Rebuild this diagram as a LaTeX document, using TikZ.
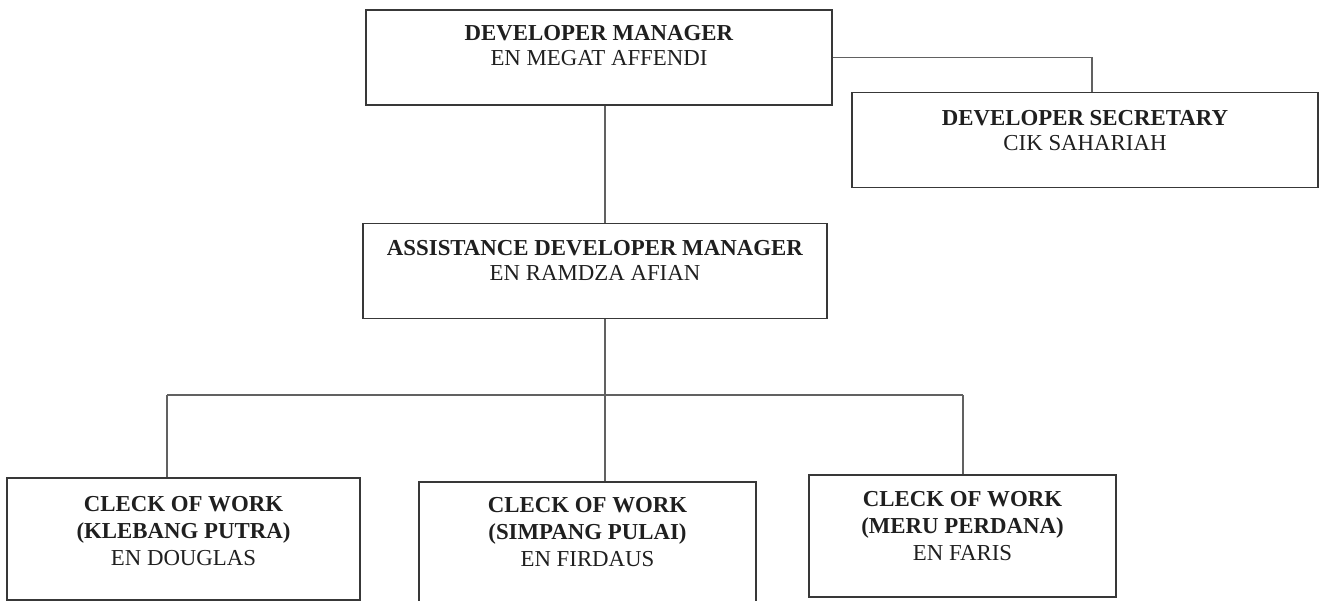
\documentclass[tikz,border=0pt]{standalone}
\usepackage{fontspec}
\setmainfont{Liberation Serif}
\usetikzlibrary{positioning}
\begin{document}
\begin{tikzpicture}[
x=0.02cm, y=-0.02cm,
box/.style={rectangle, draw=black!78, line width=1.1pt},
wide/.style={box, minimum width=9.32cm, minimum height=1.9cm},
clerk/.style={box, minimum height=2.44cm},
title/.style={align=center, inner sep=0pt, text=black!88, font=\fontsize{13}{14.5}\selectfont},
title2/.style={title, font=\fontsize{13}{15.5}\selectfont},
link/.style={draw=black!62, line width=0.6pt},
]
\useasboundingbox (0,0) rectangle (1325,601);
\node[wide] (M) at (599,57.5) {};
\node[wide] (S) at (1085,140) {};
\node[wide, minimum width=9.28cm] (A) at (595,271) {};
\node[clerk, minimum width=7.06cm] (C1) at (183.5,539) {};
\node[clerk, minimum width=6.74cm, minimum height=2.48cm] (C2) at (587.5,544) {};
\node[clerk, minimum width=6.14cm] (C3) at (962.5,536) {};

\node[title, below=0.32cm of M.north] (tM) {\textbf{DEVELOPER MANAGER}\\EN MEGAT AFFENDI};
\node[title, below=0.36cm of S.north] (tS) {\textbf{DEVELOPER SECRETARY}\\CIK SAHARIAH};
\node[title, below=0.34cm of A.north] (tA) {\textbf{ASSISTANCE DEVELOPER MANAGER}\\EN RAMDZA AFIAN};
\node[title2, below=0.38cm of C1.north] (tC1) {\textbf{CLECK OF WORK}\\\textbf{(KLEBANG PUTRA)}\\EN DOUGLAS};
\node[title2, below=0.32cm of C2.north] (tC2) {\textbf{CLECK OF WORK}\\\textbf{(SIMPANG PULAI)}\\EN FIRDAUS};
\node[title2, below=0.34cm of C3.north] (tC3) {\textbf{CLECK OF WORK}\\\textbf{(MERU PERDANA)}\\EN FARIS};

\coordinate (B1) at (167,395);
\coordinate (B2) at (605,395);
\coordinate (B3) at (963,395);
\coordinate (T) at (1092,57.5);
\draw[link] (M.south -| B2) -- (A.north -| B2);
\draw[link] (A.south -| B2) -- (B2);
\draw[link] (B1) -- (B3);
\foreach \i in {1,2,3}
	\draw[link] (B\i) -- (B\i |- C\i.north);
\draw[link] (M.east) -- (T) -- (T |- S.north);
\end{tikzpicture}
\end{document}
